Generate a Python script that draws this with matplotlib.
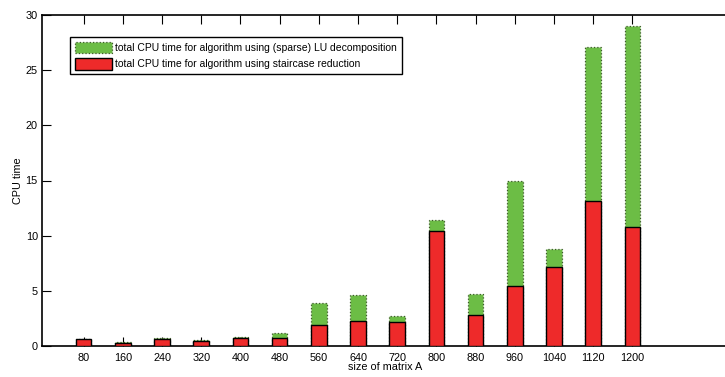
import matplotlib
matplotlib.use('Agg')
import matplotlib.pyplot as plt
import numpy as np

plt.rcParams['font.family'] = ['Liberation Sans', 'DejaVu Sans']

sizes = [80, 160, 240, 320, 400, 480, 560, 640, 720, 800, 880, 960, 1040, 1120, 1200]
lu_time = [0.6, 0.38, 0.75, 0.54, 0.78, 1.2, 3.88, 4.6, 2.68, 11.45, 4.7, 15.0, 8.83, 27.1, 29.0]
stair_time = [0.6, 0.3, 0.63, 0.48, 0.69, 0.69, 1.87, 2.26, 2.14, 10.4, 2.83, 5.45, 7.17, 13.15, 10.8]

GREEN = '#6cbd45'
RED = '#ee2a2a'

W, H = 725, 377
fig = plt.figure(figsize=(W / 100, H / 100), dpi=100)
# axes runs past the right edge of the figure, as in the reference crop
ax = fig.add_axes([42 / W, 1 - 346 / H, 708 / W, 331 / H])

x = np.array(sizes)
ax.bar(x, lu_time, width=32, color=GREEN, edgecolor='#3d5a2a', linestyle=':', linewidth=0.9,
       label='total CPU time for algorithm using (sparse) LU decomposition', zorder=2)
ax.bar(x, stair_time, width=32, color=RED, edgecolor='black', linewidth=1.0,
       label='total CPU time for algorithm using staircase reduction', zorder=3)

ax.set_xlim(-5, 1440)
ax.set_ylim(0, 30)
ax.set_xticks(sizes)
ax.set_xticklabels([str(s) for s in sizes])
ax.set_yticks(np.arange(0, 31, 5))
ax.tick_params(direction='in', length=6.5, width=0.8, labelsize=7.8, top=True, right=False, pad=3)
ax.tick_params(axis='x', pad=5)
for s in ax.spines.values():
    s.set_linewidth(1.2)

ax.set_xlabel('size of matrix A', fontsize=7.8)
ax.xaxis.set_label_coords((385 - 42) / 708, -0.047)
ax.set_ylabel('CPU time', fontsize=7.8)
ax.yaxis.set_label_coords(-19 / 708, 0.5)

leg = ax.legend(loc='upper left', bbox_to_anchor=(28 / 708, 1 - 22 / 331), fontsize=7.5,
                fancybox=False, framealpha=1, edgecolor='black', handlelength=3.6,
                handleheight=1.35, borderpad=0.45, labelspacing=0.45, handletextpad=0.3,
                borderaxespad=0)
leg.get_frame().set_linewidth(1.0)

fig.savefig('out.png', dpi=100)
